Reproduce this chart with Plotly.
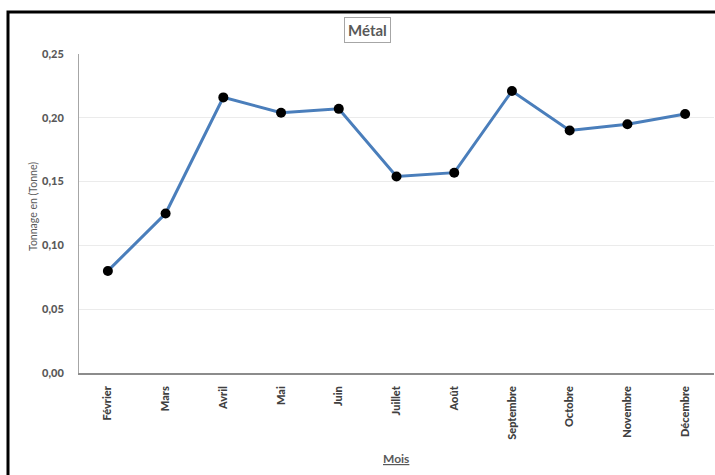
import plotly.graph_objects as go

# Monthly tonnage of metal waste
mois = ["Février", "Mars", "Avril", "Mai", "Juin", "Juillet", "Août",
        "Septembre", "Octobre", "Novembre", "Décembre"]
tonnage = [0.080, 0.125, 0.216, 0.204, 0.207, 0.154, 0.157,
           0.221, 0.190, 0.195, 0.203]

y_ticks = [0.00, 0.05, 0.10, 0.15, 0.20, 0.25]

FONT = "Lato"
GREY = "#595959"

# pixel -> paper helpers for the 715x475 canvas (plot area 79..714, 54..373)
def px_x(p):
    return (p - 79) / 635


def px_y(p):
    return (373 - p) / 319


fig = go.Figure()
fig.add_trace(go.Scatter(
    x=mois, y=tonnage, mode="lines+markers",
    line=dict(color="#4a7ebb", width=3),
    marker=dict(color="black", size=10),
    showlegend=False,
))

fig.update_layout(
    width=715, height=475,
    margin=dict(l=79, r=1, t=54, b=102),
    paper_bgcolor="white", plot_bgcolor="white",
    separators=", ",
    font=dict(family=FONT, color=GREY),
    xaxis=dict(
        type="category",
        tickangle=-90,
        tickfont=dict(size=11, color="#404040", family=FONT + " Black"),
        showgrid=False,
        showline=True, linecolor="#8c8c8c", linewidth=1.5,
        ticks="outside", ticklen=7, tickcolor="rgba(0,0,0,0)",
        range=[-0.5, len(mois) - 0.5],
    ),
    yaxis=dict(
        range=[0, 0.25],
        tickvals=y_ticks,
        tickformat=".2f",
        tickfont=dict(size=11, color=GREY, family=FONT + " Black"),
        showgrid=True, gridcolor="#ebebeb", gridwidth=1,
        showline=True, linecolor="#a6a6a6", linewidth=1,
        zeroline=False,
        ticks="outside", ticklen=12, tickcolor="rgba(0,0,0,0)",
    ),
    annotations=[
        dict(text="<b>Métal</b>", xref="paper", yref="paper",
             x=px_x(367), y=px_y(30),
             xanchor="center", yanchor="middle", showarrow=False,
             font=dict(size=15, color=GREY, family=FONT),
             bordercolor="#a6a6a6", borderwidth=1, borderpad=3,
             bgcolor="white"),
        dict(text="<b><u>Mois</u></b>", xref="paper", yref="paper",
             x=px_x(396), y=px_y(458),
             xanchor="center", yanchor="middle", showarrow=False,
             font=dict(size=12, color=GREY, family=FONT)),
        dict(text="Tonnage en (Tonne)", xref="paper", yref="paper",
             x=px_x(33), y=px_y(207),
             xanchor="center", yanchor="middle", showarrow=False,
             textangle=-90,
             font=dict(size=10.5, color=GREY, family=FONT)),
    ],
    shapes=[
        # chart frame: left and top edges
        dict(type="path", xref="paper", yref="paper",
             path="M {x0},{y0} L {x0},{y1} L {x1},{y1}".format(
                 x0=px_x(8), y0=px_y(475), y1=px_y(12), x1=px_x(715)),
             line=dict(color="black", width=3), layer="below"),
    ],
)

fig.write_html("out.html")
